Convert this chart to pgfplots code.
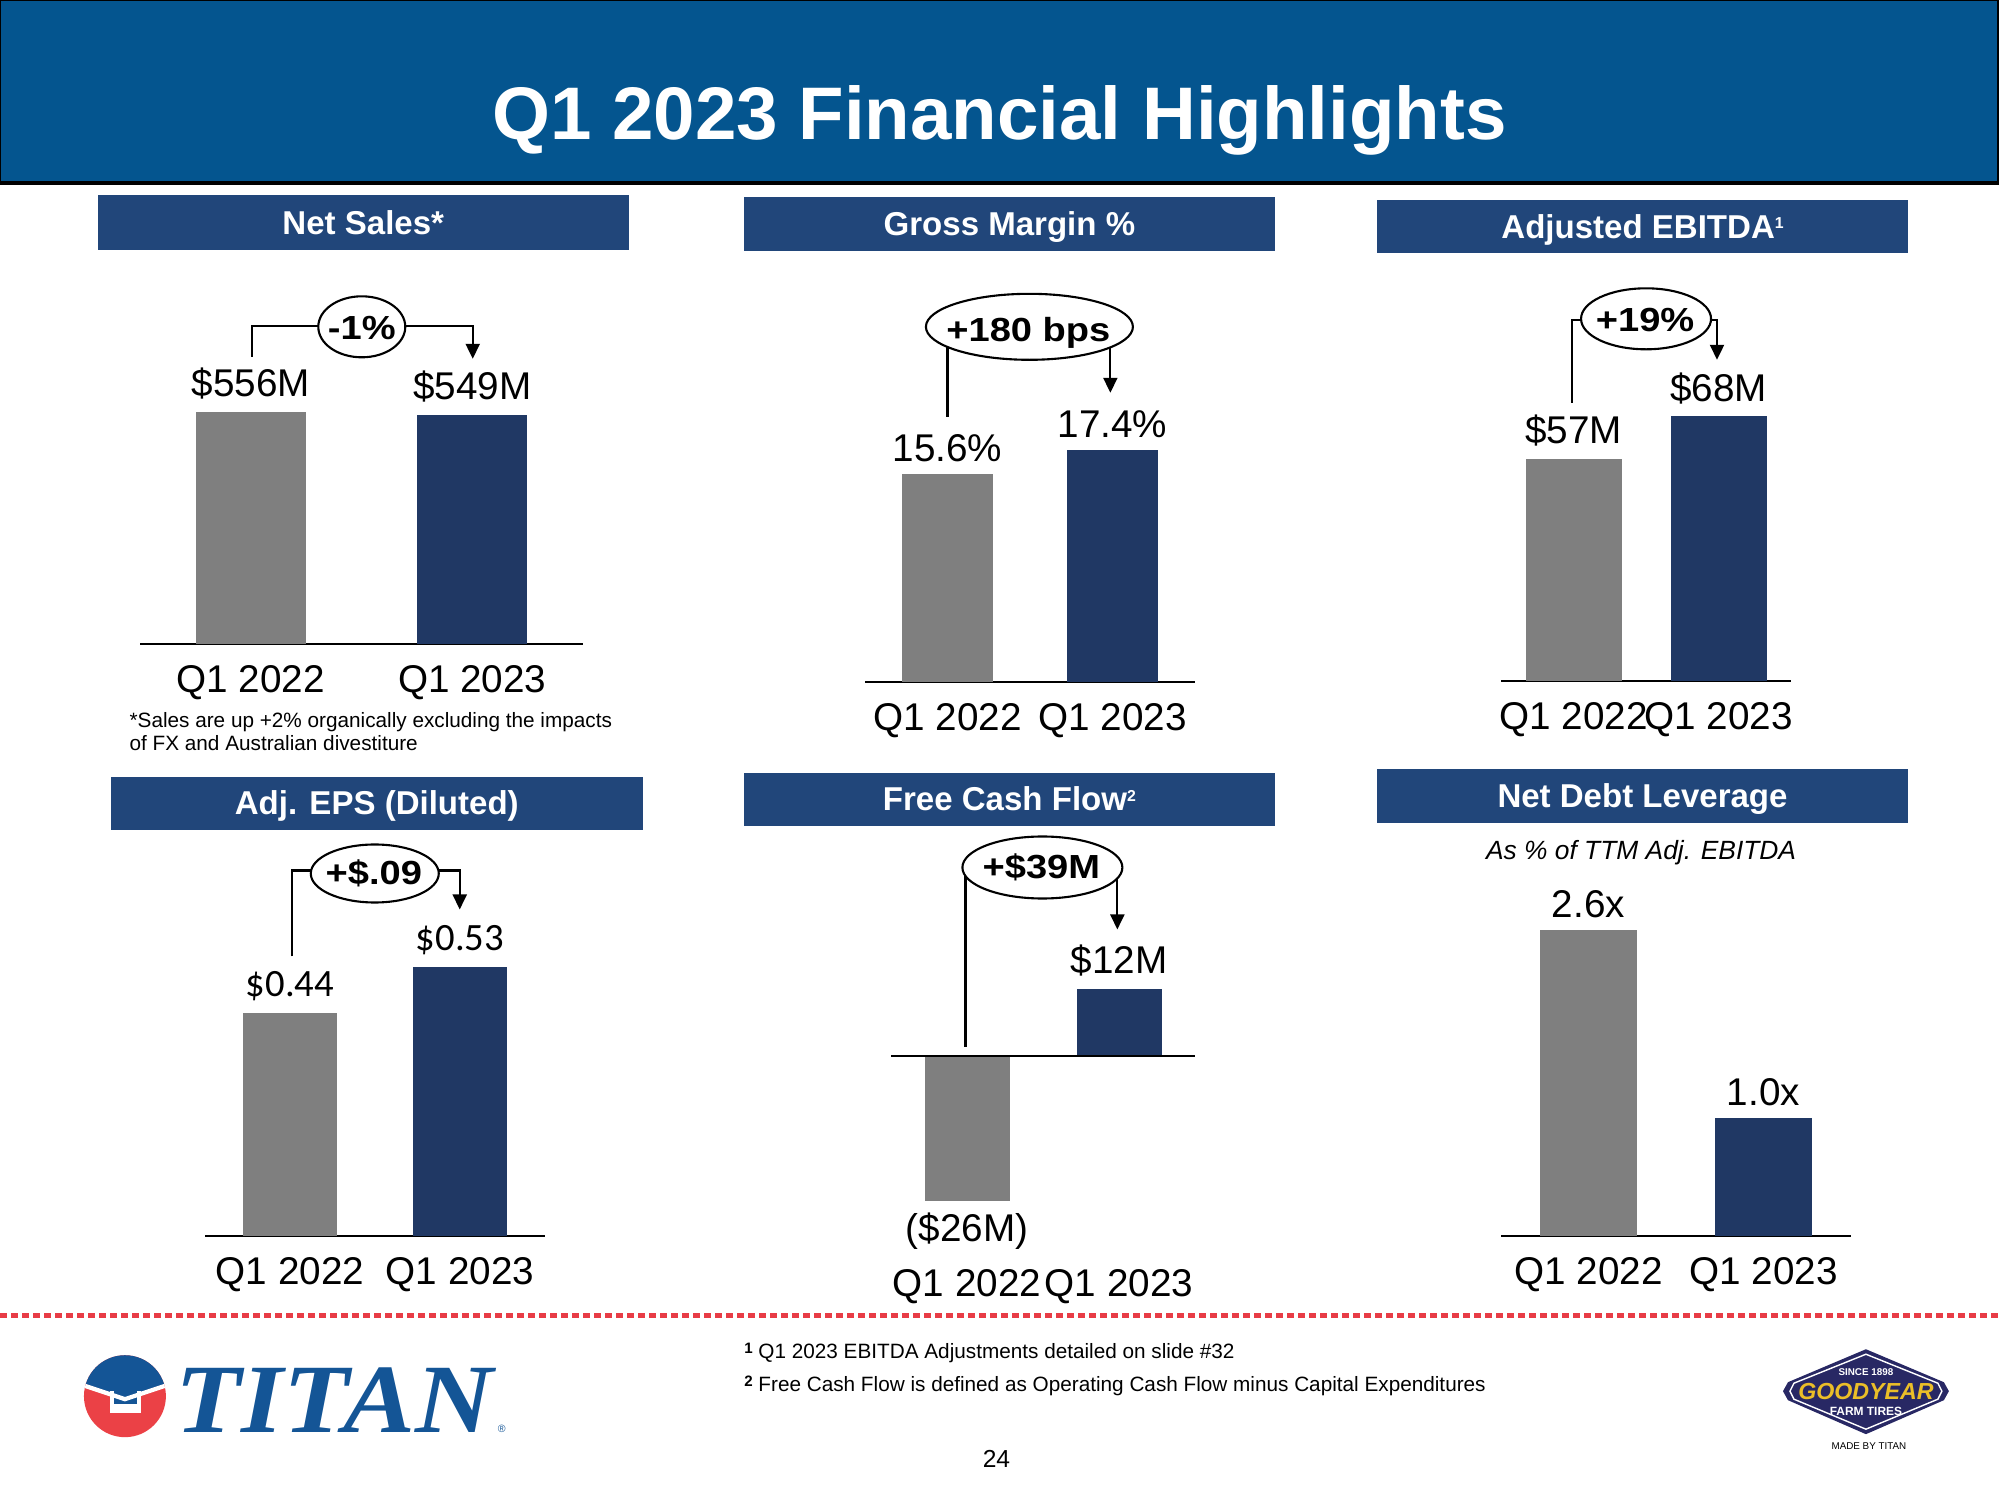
\documentclass[border=0pt]{standalone}
\usepackage{fontspec}
\setmainfont{Liberation Sans}
\newfontfamily\carlito{Carlito}
\newfontfamily\serifbi{Liberation Serif}
\usepackage{pgfplots}
\pgfplotsset{compat=1.18}
\usetikzlibrary{shapes.geometric, arrows.meta}
\definecolor{banner}{RGB}{4,85,143}
\definecolor{hdr}{RGB}{33,70,122}
\definecolor{navybar}{RGB}{32,56,100}
\definecolor{greybar}{RGB}{127,127,127}
\definecolor{dotred}{RGB}{232,60,70}
\definecolor{titanblue}{RGB}{20,85,150}
\definecolor{titanred}{RGB}{235,65,70}
\definecolor{gynavy}{RGB}{40,40,100}
\definecolor{gyyellow}{RGB}{235,190,40}
\newcommand{\sups}[1]{\raisebox{0.55ex}{\fontsize{4.5}{5}\selectfont #1}}
\newcommand{\fsup}[1]{\raisebox{0.45ex}{\bfseries\fontsize{4.3}{5}\selectfont #1}}
\newcommand{\bt}[1]{\scalebox{1.14}[1]{#1}}
\pgfplotsset{
  panel/.style={
    scale only axis, anchor=south west, clip=false,
    ybar, ymin=0, xmin=-0.5, xmax=1.5,
    axis x line*=bottom, axis y line=none,
    x axis line style={-, line width=0.7pt, black},
    xtick={0,1}, xticklabels={Q1 2022,Q1 2023},
    major tick length=0pt, ytick=\empty,
    xticklabel style={font=\fontsize{11}{13}\selectfont, yshift=-0.09cm},
    nodes near coords, point meta=explicit symbolic,
    nodes near coords style={font=\fontsize{11}{13}\selectfont, black},
  },
  g/.style={fill=greybar, draw=none, bar shift=0pt},
  n/.style={fill=navybar, draw=none, bar shift=0pt},
}
\tikzset{
  bub/.style={draw, ellipse, fill=white, line width=0.6pt, inner sep=0pt},
  btxt/.style={anchor=base, inner sep=0pt, font=\bfseries\fontsize{9.5}{11}\selectfont},
  hd/.style={anchor=base, white, font=\bfseries\fontsize{9.4}{11}\selectfont},
  br/.style={line width=0.6pt},
  bra/.style={line width=0.6pt, -{Triangle[length=0.15cm,width=0.14cm]}},
}
\begin{document}
\begin{tikzpicture}
\useasboundingbox (0,0) rectangle (20,15);

% ---- Net Sales
\begin{axis}[panel, at={(1.40cm,8.56cm)}, width=4.43cm, height=3cm, ymax=718.9, bar width=1.1cm]
\addplot[g] coordinates {(0,556) [\$556M]};
\addplot[n] coordinates {(1,549) [\$549M]};
\end{axis}
% ---- Gross Margin
\begin{axis}[panel, at={(8.65cm,8.18cm)}, width=3.30cm, height=3cm, ymax=22.5, bar width=0.91cm]
\addplot[g] coordinates {(0,15.6) [15.6\%]};
\addplot[n] coordinates {(1,17.4) [17.4\%]};
\end{axis}
% ---- Adjusted EBITDA
\begin{axis}[panel, at={(15.01cm,8.19cm)}, width=2.90cm, height=3cm, ymax=77.03, bar width=0.96cm]
\addplot[g] coordinates {(0,57) [\$57M]};
\addplot[n] coordinates {(1,68) [\$68M]};
\end{axis}
% ---- Adj. EPS
\begin{axis}[panel, at={(2.05cm,2.64cm)}, width=3.40cm, height=3cm, ymax=0.5919, bar width=0.94cm,
  nodes near coords style={font=\carlito\fontsize{11}{13}\selectfont, black}]
\addplot[g] coordinates {(0,0.44) [\$0.44]};
\addplot[n] coordinates {(1,0.53) [\$0.53]};
\end{axis}
% ---- Free Cash Flow
\begin{axis}[panel, at={(8.91cm,2.522cm)}, width=3.04cm, height=3.034cm, ymin=-34.4, ymax=20, bar width=0.85cm,
  x axis line style={draw=none}]
\addplot[g, every node near coord/.append style={anchor=north}] coordinates {(0,-26) [(\$26M)]};
\addplot[n] coordinates {(1,12) [\$12M]};
\draw[line width=0.7pt] (axis cs:-0.5,0) -- (axis cs:1.5,0);
\end{axis}
% ---- Net Debt Leverage
\begin{axis}[panel, at={(15.01cm,2.64cm)}, width=3.50cm, height=3.5cm, ymax=2.974, bar width=0.97cm]
\addplot[g] coordinates {(0,2.6) [2.6x]};
\addplot[n] coordinates {(1,1.0) [1.0x]};
\end{axis}

\begin{scope}[shift={(0,15cm)}, x=0.01cm, y=-0.01cm]
% banner
\fill[banner] (0,0) rectangle (2000,183);
\draw[black, line width=0.5pt] (0.5,0.5) rectangle (1999.5,183);
\draw[black, line width=1pt] (0,183) -- (2000,183);
\node[anchor=base, white, font=\bfseries\fontsize{21.2}{25}\selectfont] at (1000,140) {Q1 2023 Financial Highlights};

% headers
\fill[hdr] (98,195) rectangle (629,250);
\node[hd] at (363.5,234.5) {Net Sales*};
\fill[hdr] (744,197) rectangle (1276,251);
\node[hd] at (1010,235.8) {Gross Margin \%};
\fill[hdr] (1378,200) rectangle (1909,253);
\node[hd] at (1643.5,238.3) {Adjusted EBITDA\sups{1}};
\fill[hdr] (111,777) rectangle (643,830);
\node[hd] at (377,815.3) {Adj. EPS (Diluted)};
\fill[hdr] (744,773) rectangle (1276,826);
\node[hd] at (1010,811.3) {Free Cash Flow\sups{2}};
\fill[hdr] (1378,769) rectangle (1909,823);
\node[hd] at (1643.5,807.8) {Net Debt Leverage};

% bubbles and brackets
\draw[br] (252,357) -- (252,326) -- (362,326);
\draw[bra] (362,326) -- (473,326) -- (473,359);
\node[bub, minimum width=0.87cm, minimum height=0.61cm] at (362,327) {};
\node[btxt] at (362,340) {\bt{-1\%}};

\draw[br] (948,327) -- (948,417);
\draw[bra] (1111,327) -- (1111,393);
\node[bub, minimum width=2.07cm, minimum height=0.66cm] at (1030,327) {};
\node[btxt] at (1029,342) {\bt{+180 bps}};

\draw[br] (1573,403) -- (1573,320) -- (1647,320);
\draw[bra] (1647,320) -- (1718,320) -- (1718,360);
\node[bub, minimum width=1.30cm, minimum height=0.61cm] at (1647,319) {};
\node[btxt] at (1646,332) {\bt{+19\%}};

\draw[br] (292,957) -- (292,871) -- (375,871);
\draw[bra] (375,871) -- (460,871) -- (460,910);
\node[bub, minimum width=1.28cm, minimum height=0.58cm] at (375,874) {};
\node[btxt] at (374,885) {\bt{+\$.09}};

\draw[br] (966,868) -- (966,1048);
\draw[bra] (1118,868) -- (1118,930);
\node[bub, minimum width=1.60cm, minimum height=0.62cm] at (1043,868) {};
\node[btxt] at (1042,879) {\bt{+\$39M}};

% notes
\node[anchor=base west, font=\fontsize{5.9}{7}\selectfont, inner sep=0] at (129,728) {*Sales are up +2\% organically excluding the impacts};
\node[anchor=base west, font=\fontsize{5.9}{7}\selectfont, inner sep=0] at (129,751) {of FX and Australian divestiture};
\node[anchor=base, inner sep=0, font=\itshape\fontsize{7.5}{9}\selectfont] at (1642,860) {As \% of TTM Adj. EBITDA};

% dotted separator
\draw[dotred, line width=1.42pt, dash pattern=on 0.07cm off 0.04cm] (0,1316) -- (2000,1316);

% footnotes
\node[anchor=base west, font=\fontsize{5.9}{7}\selectfont, inner sep=0] at (744,1359) {\fsup{1} Q1 2023 EBITDA Adjustments detailed on slide \#32};
\node[anchor=base west, font=\fontsize{5.9}{7}\selectfont, inner sep=0] at (744,1392) {\fsup{2} Free Cash Flow is defined as Operating Cash Flow minus Capital Expenditures};
\node[anchor=base, inner sep=0, font=\fontsize{7}{8}\selectfont] at (997,1468) {24};

% Titan logo
\begin{scope}
\clip (125,1397) circle (41);
\fill[titanred] (80,1350) rectangle (170,1445);
\fill[titanblue] (80,1350) -- (170,1350) -- (170,1383) -- (125,1398) -- (80,1383) -- cycle;
\fill[white] (110,1392) rectangle (141,1414);
\fill[titanblue] (114,1392) rectangle (137,1405);
\draw[white, line width=1.2pt] (80,1385) -- (125,1400) -- (170,1385);
\end{scope}
\node[anchor=base west, titanblue, inner sep=0, font=\serifbi\bfseries\itshape\fontsize{27.9}{30}\selectfont] at (175,1433) {\scalebox{1.1}[1]{TITAN}};
\node[titanblue, inner sep=0, font=\fontsize{3}{3}\selectfont] at (502,1430) {\textregistered};

% Goodyear logo
\fill[gynavy] (1867,1350) -- (1945,1383) -- (1950,1392) -- (1945,1401) -- (1867,1435) -- (1789,1401) -- (1784,1392) -- (1789,1383) -- cycle;
\draw[white, line width=0.4pt] (1867,1355) -- (1939,1384) -- (1943,1392) -- (1939,1400) -- (1867,1430) -- (1795,1400) -- (1791,1392) -- (1795,1384) -- cycle;
\node[white, inner sep=0, font=\bfseries\fontsize{2.8}{3}\selectfont] at (1867,1373) {SINCE 1898};
\node[gyyellow, inner sep=0, font=\bfseries\itshape\fontsize{6.6}{8}\selectfont] at (1867,1392) {GOODYEAR};
\node[white, inner sep=0, font=\bfseries\fontsize{3.4}{4}\selectfont] at (1867,1412) {FARM TIRES};
\node[black, inner sep=0, font=\fontsize{2.8}{3}\selectfont] at (1870,1447) {MADE BY TITAN};
\end{scope}
\end{tikzpicture}
\end{document}
